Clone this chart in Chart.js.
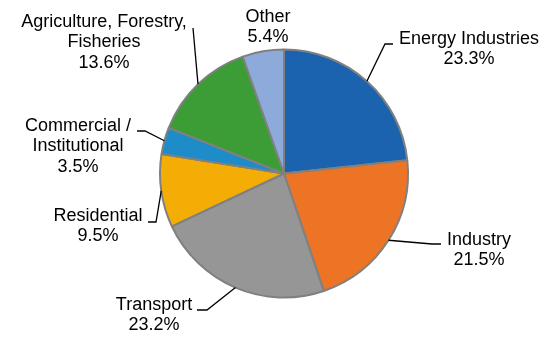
<!DOCTYPE html>
<html>
<head>
<meta charset="utf-8">
<script src="https://cdn.jsdelivr.net/npm/chart.js@4"></script>
<style>
  html, body { margin: 0; padding: 0; background: #ffffff; }
  #wrap { width: 550px; height: 346px; }
</style>
</head>
<body>
<div id="wrap"><canvas id="sectorChart" width="550" height="346"></canvas></div>
<script>
// Data
const categories = [
    'Energy Industries',
    'Industry',
    'Transport',
    'Residential',
    ['Commercial /', 'Institutional'],
    ['Agriculture, Forestry,', 'Fisheries'],
    'Other'
];
const shares = [23.3, 21.5, 23.2, 9.5, 3.5, 13.6, 5.4];
const sliceColors = ['#1b63af', '#ec7424', '#969696', '#f4ad05', '#1d8cc8', '#3c9c35', '#8eaadb'];

// Label placement: text centre, first line y, and leader elbow/end
const labelLayout = [
    { x: 469, y: 39, elbow: [385, 44], end: [393, 44] },
    { x: 479, y: 240, elbow: [432, 244], end: [441, 244] },
    { x: 154, y: 305, elbow: [207, 310], end: [197, 310] },
    { x: 98, y: 216, elbow: [156, 222], end: [148, 222] },
    { x: 78, y: 126, elbow: [145, 131], end: [137, 131] },
    { x: 104, y: 22, elbow: null, end: [193, 28] },
    { x: 268, y: 17, elbow: null, end: null }
];

const LINE_H = 20.5;

const outsideLabels = {
    id: 'outsideLabels',
    afterDraw(chart) {
        const ctx = chart.ctx;
        const arcs = chart.getDatasetMeta(0).data;
        ctx.save();
        ctx.strokeStyle = '#000000';
        ctx.lineWidth = 1.3;
        arcs.forEach((arc, i) => {
            const lay = labelLayout[i];
            if (!lay.end) return;
            const p = arc.getProps(['x', 'y', 'startAngle', 'endAngle', 'outerRadius'], true);
            const mid = (p.startAngle + p.endAngle) / 2;
            const sx = p.x + Math.cos(mid) * p.outerRadius;
            const sy = p.y + Math.sin(mid) * p.outerRadius;
            ctx.beginPath();
            ctx.moveTo(sx, sy);
            if (lay.elbow) ctx.lineTo(lay.elbow[0], lay.elbow[1]);
            ctx.lineTo(lay.end[0], lay.end[1]);
            ctx.stroke();
        });

        ctx.fillStyle = '#000000';
        ctx.font = '18px "Liberation Sans", Arial, sans-serif';
        ctx.textAlign = 'center';
        ctx.textBaseline = 'middle';
        categories.forEach((cat, i) => {
            const lines = Array.isArray(cat) ? cat.slice() : [cat];
            lines.push(shares[i].toFixed(1) + '%');
            const lay = labelLayout[i];
            lines.forEach((txt, j) => {
                ctx.fillText(txt, lay.x, lay.y + j * LINE_H);
            });
        });
        ctx.restore();
    }
};

new Chart(document.getElementById('sectorChart'), {
    type: 'pie',
    data: {
        labels: categories,
        datasets: [{
            data: shares,
            backgroundColor: sliceColors,
            borderColor: '#808080',
            borderWidth: 2,
            hoverOffset: 0,
            offset: 0
        }]
    },
    options: {
        responsive: false,
        animation: false,
        layout: {
            padding: { left: 159, right: 141, top: 48.5, bottom: 47.5 }
        },
        plugins: {
            legend: { display: false },
            tooltip: { enabled: false }
        }
    },
    plugins: [outsideLabels]
});
</script>
</body>
</html>
